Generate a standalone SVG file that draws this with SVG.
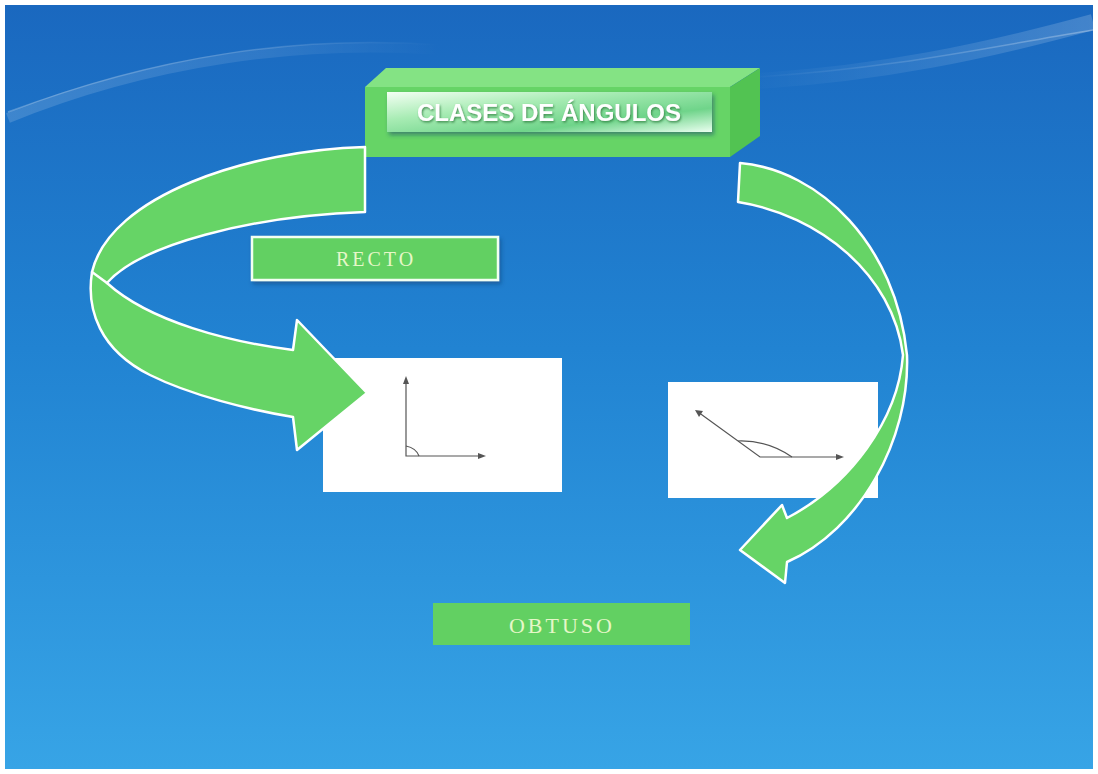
<svg xmlns="http://www.w3.org/2000/svg" width="1098" height="774" viewBox="0 0 1098 774">
  <defs>
    <linearGradient id="bg" x1="0" y1="0" x2="0" y2="1">
      <stop offset="0" stop-color="#1a68bf"/>
      <stop offset="0.45" stop-color="#2183d2"/>
      <stop offset="1" stop-color="#37a4e6"/>
    </linearGradient>
    <linearGradient id="panel" x1="0" y1="0" x2="1" y2="1">
      <stop offset="0" stop-color="#f4fff4"/>
      <stop offset="0.35" stop-color="#a8ecb4"/>
      <stop offset="0.7" stop-color="#6fd48a"/>
      <stop offset="1" stop-color="#eafff0"/>
    </linearGradient>
    <linearGradient id="fadeL" gradientUnits="userSpaceOnUse" x1="8" y1="0" x2="440" y2="0">
      <stop offset="0" stop-color="#ffffff" stop-opacity="0.25"/>
      <stop offset="0.6" stop-color="#ffffff" stop-opacity="0.15"/>
      <stop offset="1" stop-color="#ffffff" stop-opacity="0"/>
    </linearGradient>
    <linearGradient id="fadeR" gradientUnits="userSpaceOnUse" x1="740" y1="0" x2="1093" y2="0">
      <stop offset="0" stop-color="#ffffff" stop-opacity="0"/>
      <stop offset="1" stop-color="#ffffff" stop-opacity="0.3"/>
    </linearGradient>
    <filter id="sh" x="-10%" y="-30%" width="120%" height="160%">
      <feDropShadow dx="1" dy="1.5" stdDeviation="0.8" flood-color="#2a7a3a" flood-opacity="0.8"/>
    </filter>
    <filter id="boxsh" x="-10%" y="-20%" width="120%" height="150%">
      <feDropShadow dx="2" dy="3" stdDeviation="2" flood-color="#0b3a70" flood-opacity="0.5"/>
    </filter>
  </defs>
  <style>
    .arrow { fill: #66d466; stroke: #ffffff; stroke-width: 2.5; stroke-linejoin: round; }
    .crease { fill: none; stroke: #ffffff; stroke-width: 2.5; stroke-linecap: round; }
    .label { fill: #62d062; }
    .ltext { font-family: "Liberation Serif", "DejaVu Serif", serif; fill: #e6f7c8; text-anchor: middle; }
    .panel { fill: #ffffff; }
    .ang { fill: none; stroke: #555555; stroke-width: 1.2; }
    .swoosh { fill: none; }
  </style>

  <rect x="0" y="0" width="1098" height="774" fill="#ffffff"/>
  <rect x="5" y="5" width="1088" height="764" fill="url(#bg)"/>
  <g id="background-swoosh">
    <path class="swoosh" d="M8,118 C150,60 300,40 440,50" stroke="url(#fadeL)" stroke-width="10" opacity="0.6"/>
    <path class="swoosh" d="M8,112 C160,55 300,35 440,45" stroke="url(#fadeL)" stroke-width="1.5"/>
    <path class="swoosh" d="M740,82 C880,75 990,50 1093,22" stroke="url(#fadeR)" stroke-width="16" opacity="0.6"/>
    <path class="swoosh" d="M740,78 C890,70 1000,45 1093,30" stroke="url(#fadeR)" stroke-width="1.5"/>
  </g>

  <g id="title">
    <polygon points="365,87 386,68 760,68 730,87" fill="#84e384"/>
    <polygon points="730,87 760,68 760,136 730,157" fill="#52c352"/>
    <rect x="365" y="87" width="365" height="70" fill="#66d466"/>
    <rect x="387" y="92" width="325" height="40" fill="url(#panel)" filter="url(#boxsh)"/>
    <text x="549" y="121" font-family="Liberation Sans, Arial, sans-serif" font-weight="bold" font-size="24" fill="#ffffff" text-anchor="middle" filter="url(#sh)">CLASES DE ÁNGULOS</text>
  </g>

  <g id="recto">
    <rect x="252" y="237" width="246" height="43" class="label" stroke="#f2fff2" stroke-width="2.5" filter="url(#boxsh)"/>
    <text x="376" y="266" class="ltext" font-size="20" letter-spacing="3">RECTO</text>
  </g>

  <g id="obtuso">
    <rect x="433" y="603" width="257" height="42" class="label"/>
    <text x="562" y="633" class="ltext" font-size="22" letter-spacing="3">OBTUSO</text>
  </g>

  <g id="recto-figure">
    <rect x="323" y="358" width="239" height="134" class="panel"/>
    <path class="ang" d="M406,380 L406,456 L482,456"/>
    <path d="M406,376 L403,384 L409,384 Z" fill="#555555"/>
    <path d="M486,456 L478,453 L478,459 Z" fill="#555555"/>
    <path class="ang" d="M406,446 Q416,448 419,456"/>
  </g>

  <g id="obtuso-figure">
    <rect x="668" y="382" width="210" height="116" class="panel"/>
    <path class="ang" d="M698,412 L760,457 L840,457"/>
    <path d="M695,410 L699,417 L703,411 Z" fill="#555555"/>
    <path d="M844,457 L836,454 L836,460 Z" fill="#555555"/>
    <path class="ang" d="M738,441 Q768,440 792,457"/>
  </g>

  <g id="connectors">
    <path class="arrow" d="M365,147 C250,150 110,195 92,272 C86,310 100,350 150,375 C190,395 250,410 293,417 L297,450 L367,393 L297,320 L293,350 C230,342 150,322 107,283 C140,245 250,216 365,212 Z"/>
    <path class="crease" d="M92,272 L107,283"/>
    <path class="arrow" d="M740,163 C820,170 896,245 907,355 C910,440 860,530 787,562 L785,583 L740,550 L782,505 L787,518 C850,485 898,420 903,355 C893,275 820,215 738,202 Z"/>
  </g>
</svg>
